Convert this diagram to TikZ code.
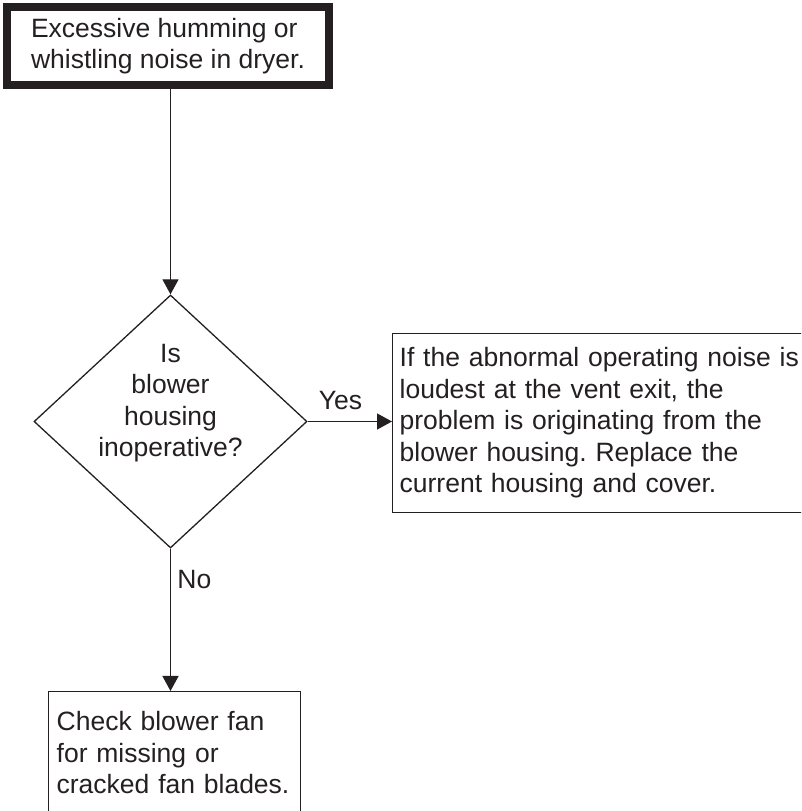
\documentclass[tikz,border=0pt]{standalone}
\usepackage{fontspec}
\setmainfont{Liberation Sans}
\usetikzlibrary{shapes.geometric}
\usetikzlibrary{arrows.meta, positioning}
\definecolor{inkgray}{rgb}{0.14, 0.12, 0.13}
\frenchspacing

\tikzset{
    flowtext/.style={font=\fontsize{26.5}{31.5}\selectfont, text=inkgray},
    startbox/.style={flowtext, draw=inkgray, line width=8pt, align=left, minimum width=322pt, minimum height=78pt},
    infobox/.style={flowtext, draw=inkgray, line width=1.3pt, align=left, anchor=north west},
    askdiamond/.style={shape=diamond, draw=inkgray, line width=1.3pt, inner sep=0pt, aspect=1.08, minimum width=273pt, minimum height=253pt},
    flowarrow/.style={draw=inkgray, line width=1.3pt, -{Triangle[length=15pt, width=16pt]}}
}

\begin{document}
\begin{tikzpicture}[x=1pt, y=1pt]

    \useasboundingbox (0,0) rectangle (801,811);
    \clip (0,0) rectangle (801,811);

    \node[startbox] (noise) at (168, 765) {Excessive humming or\\whistling noise in dryer.};

    \node[askdiamond] (housing) at (170.5, 389.5) {};
    \node[flowtext, align=center] (housingtext) at (170.5, 408) {Is\\blower\\housing\\inoperative?};

    \node[infobox, text width=400pt, inner xsep=7pt, minimum height=179pt] (replace) at (392, 478) {If the abnormal operating noise is\\loudest at the vent exit, the\\problem is originating from the\\blower housing. Replace the\\current housing and cover.};
    \node[infobox, text width=236pt, inner xsep=8pt, inner ysep=19.7pt, text depth=110pt] (fan) at (48, 120) {Check blower fan\\for missing or\\cracked fan blades.};

    \draw[flowarrow] (housing.north |- noise.south) -- (housing.north);
    \draw[flowarrow] (housing.east) -- (housing.east -| replace.west) node[flowtext, above=8pt, pos=0.39] (yes) {Yes};
    \draw[flowarrow] (housing.south) -- (housing.south |- fan.north) node[flowtext, right=3pt, pos=0.215] (no) {No};

\end{tikzpicture}
\end{document}
